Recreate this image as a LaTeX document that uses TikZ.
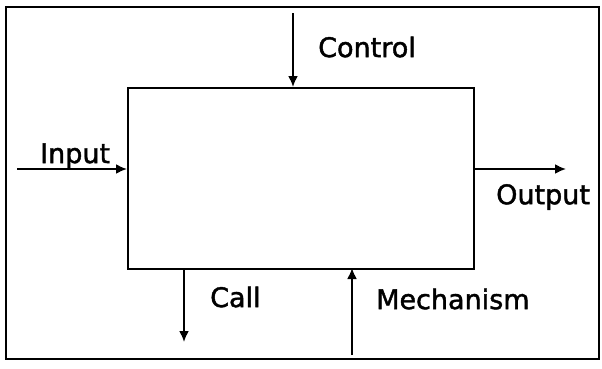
\documentclass[tikz,border=0pt]{standalone}
\usepackage{fontspec}
\setmainfont{DejaVu Sans}
\newfontfamily\lblfont[FakeBold=1.6]{DejaVu Sans}
\usetikzlibrary{arrows.meta}
\begin{document}
\begin{tikzpicture}[x=1pt,y=-1pt,
  lbl/.style={anchor=west,inner sep=0pt,font=\lblfont\fontsize{27}{30}\selectfont},
  arr/.style={line width=2pt,-{Latex[length=11pt,width=10pt]}},
  ln/.style={line width=2pt}]
\useasboundingbox (0,0) rectangle (602,368);
\draw[line width=1.6pt] (6,7) rectangle (599,359);
\node[draw,ln,minimum width=346pt,minimum height=181pt,inner sep=0pt,anchor=north west] (box) at (127,87) {};
\coordinate (ctop) at (293,13);
\coordinate (ctrl) at (293,87);
\draw[arr] (ctop) -- (ctrl);
\node[lbl] (lctrl) at (318,47) {Control};
\coordinate (istart) at (17,169);
\coordinate (iend) at (127,169);
\draw[arr] (istart) -- (iend);
\node[lbl] (linput) at (40,156) {Input};
\coordinate (ostart) at (473,169);
\coordinate (oend) at (566,169);
\draw[arr] (ostart) -- (oend);
\node[lbl] (loutput) at (496,197) {Output};
\coordinate (cstart) at (184,268);
\coordinate (cend) at (184,342);
\draw[arr] (cstart) -- (cend);
\node[lbl] (lcall) at (210,297) {Call};
\coordinate (mstart) at (352,355);
\coordinate (mend) at (352,268);
\draw[arr] (mstart) -- (mend);
\node[lbl] (lmech) at (376,299) {Mechanism};
\end{tikzpicture}
\end{document}
